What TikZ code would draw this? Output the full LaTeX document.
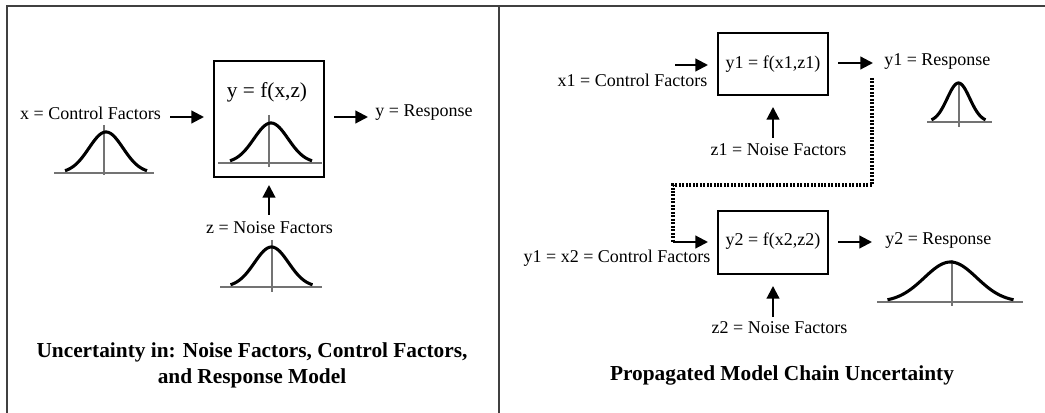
\documentclass[tikz,border=0pt]{standalone}
\usepackage{fontspec}
\setmainfont{Liberation Serif}
\usetikzlibrary{arrows.meta}

% Gaussian bell with its axis and base line:
% #1 curve centre x, #2 base y, #3 curve half width, #4 peak height,
% #5 axis x, #6 axis top y, #7 axis bottom y, #8 base left x, #9 base right x
\newcommand\gbell[9]{%
  \draw[axisline] (#8,#2) -- (#9,#2);
  \draw[axisline] (#5,#6) -- (#5,#7);
  \draw[bellcurve] plot[domain=-#3:#3, samples=70, smooth]
    ({#1+\x}, {#2-#4*exp(-(\x*\x)/(2*(#3/2.4)*(#3/2.4)))});
}

\tikzset{
  frame/.style={draw=black!75, line width=1.2pt},
  box/.style={draw, line width=1.1pt, rectangle, inner sep=0pt},
  lbl/.style={font=\fontsize{13.5}{16}\selectfont, inner sep=0pt},
  formula/.style={font=\fontsize{16}{19}\selectfont, inner sep=0pt},
  caption/.style={font=\fontsize{16}{19.5}\selectfont\bfseries, inner sep=0pt, align=center},
  arr/.style={line width=1.6pt, -{Triangle[length=9.5pt,width=9.5pt]}},
  chain/.style={line width=2.3pt, dash pattern=on 1.5pt off 1.1pt},
  bellcurve/.style={line width=2.3pt, line join=round},
  axisline/.style={draw=black!55, line width=0.9pt},
}

\begin{document}
\begin{tikzpicture}[x=0.75pt, y=-0.75pt]
\useasboundingbox (0,0) rectangle (1045,413);

% panel frames
\draw[frame] (7,413) -- (7,6) -- (1045,6);
\draw[frame] (499,6) -- (499,413);

% ---------- left panel: single model ----------
\node[box, minimum width=82.5pt, minimum height=87pt] (m) at (269,119) {};
\node[formula] (mf) at (267,92) {y = f(x,z)};
\gbell{271}{163}{41}{40}{269}{115}{167}{218}{322}

\node[lbl] (xin) at (90.5,113) {x = Control Factors};
\gbell{106}{173}{41}{41}{104}{125}{175}{54}{154}
\coordinate (xs) at (170,117);
\coordinate (xe) at (204,117);
\draw[arr] (xs) -- (xe);

\node[lbl] (yout) at (424,113) {y = Response};
\coordinate (ys) at (334,117);
\coordinate (ye) at (368,117);
\draw[arr] (ys) -- (ye);

\node[lbl] (zin) at (269.5,228) {z = Noise Factors};
\gbell{271.5}{287}{41}{40}{272}{240}{292}{220}{322}
\coordinate (zs) at (269,215);
\coordinate (ze) at (269,185);
\draw[arr] (zs) -- (ze);

\node[caption] (capl) at (252,365) {Uncertainty in: Noise Factors, Control Factors,\\and Response Model};

% ---------- right panel: chained models ----------
\node[box, minimum width=82.5pt, minimum height=46.5pt] (m1) at (773,64) {};
\node[lbl] (m1f) at (773,64) {y1 = f(x1,z1)};
\node[box, minimum width=82.5pt, minimum height=47.25pt] (m2) at (773,242.5) {};
\node[lbl] (m2f) at (773,241) {y2 = f(x2,z2)};

\node[lbl] (x1in) at (632.5,80) {x1 = Control Factors};
\coordinate (x1s) at (675,65);
\coordinate (x1e) at (708,65);
\draw[arr] (x1s) -- (x1e);

\coordinate (y1s) at (838,63);
\coordinate (y1e) at (873,63);
\draw[arr] (y1s) -- (y1e);
\node[lbl, anchor=west] (y1out) at (884,62) {y1 = Response};
\gbell{958.5}{122}{27}{39}{959}{83}{127}{927}{992}

\node[lbl] (z1in) at (778.5,150) {z1 = Noise Factors};
\coordinate (z1s) at (773,138);
\coordinate (z1e) at (773,107);
\draw[arr] (z1s) -- (z1e);

% propagated response fed forward as the next control input
\coordinate (c1) at (872,78);
\coordinate (c2) at (872,185);
\coordinate (c3) at (673,185);
\coordinate (c4) at (673,242);
\draw[chain] (c1) -- (c2) -- (c3) -- (c4);
\coordinate (x2e) at (708,242);
\draw[arr] (c4) -- (x2e);
\node[lbl] (x2in) at (617,258) {y1 = x2 = Control Factors};

\coordinate (y2s) at (838,242);
\coordinate (y2e) at (872,242);
\draw[arr] (y2s) -- (y2e);
\node[lbl, anchor=west] (y2out) at (885,240) {y2 = Response};
\gbell{950.5}{302}{63}{40}{952}{260}{306}{877}{1023}

\node[lbl] (z2in) at (779.5,328) {z2 = Noise Factors};
\coordinate (z2s) at (773,317);
\coordinate (z2e) at (773,286);
\draw[arr] (z2s) -- (z2e);

\node[caption] (capr) at (782,375) {Propagated Model Chain Uncertainty};
\end{tikzpicture}
\end{document}
